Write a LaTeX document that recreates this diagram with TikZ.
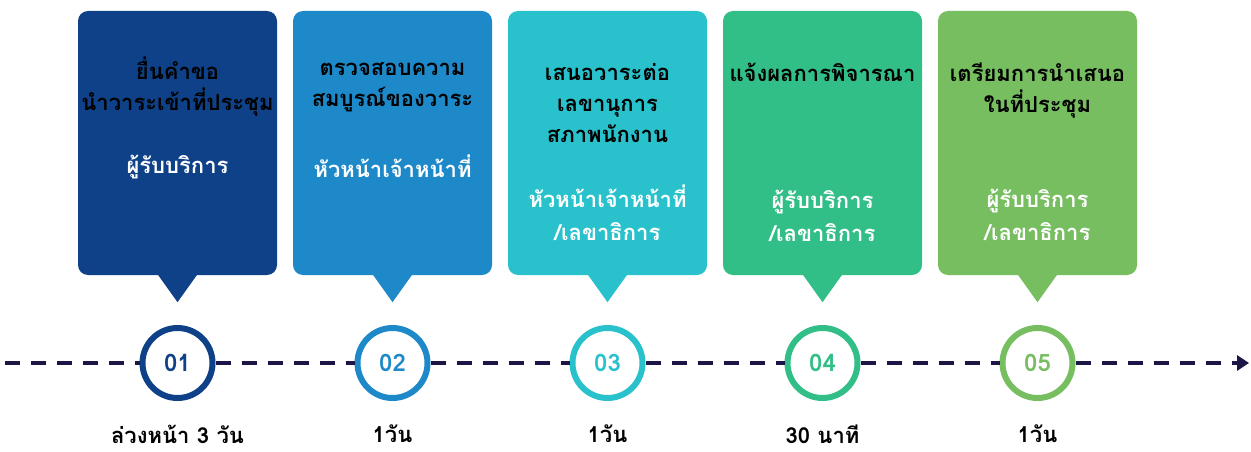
\documentclass[tikz,border=0pt]{standalone}
\usepackage{fontspec}
\setmainfont[Script=Thai]{Loma}
\usetikzlibrary{arrows.meta}
\definecolor{cA}{RGB}{14,65,135}
\definecolor{cB}{RGB}{30,137,201}
\definecolor{cC}{RGB}{41,194,204}
\definecolor{cD}{RGB}{50,190,135}
\definecolor{cE}{RGB}{118,190,95}
\definecolor{navy}{RGB}{28,22,70}
\tikzset{
  stagebox/.style={rectangle, rounded corners=10pt, minimum width=199pt, minimum height=264pt, inner sep=0pt},
  titletxt/.style={align=center, font=\fontsize{22}{31}\selectfont\bfseries, text=black, inner sep=0pt},
  roletxt/.style={align=center, font=\fontsize{22}{33}\selectfont\bfseries, text=white, inner sep=0pt},
  stepcircle/.style={circle, line width=6pt, minimum size=70pt, inner sep=0pt, fill=white, font=\fontsize{24}{26}\selectfont\bfseries},
  timetxt/.style={font=\fontsize{22}{25}\selectfont\bfseries, text=black, inner sep=0pt},
  timeline/.style={navy, line width=3.5pt, dash pattern=on 15pt off 11pt}
}
\begin{document}
\begin{tikzpicture}[x=1pt,y=-1pt]
\useasboundingbox[fill=white] (0,0) rectangle (1251,452);
% boxes
\foreach \i/\x/\c in {1/177.5/cA,2/392.5/cB,3/607.5/cC,4/822.5/cD,5/1037.5/cE}{
  \node[stagebox, fill=\c] (b\i) at (\x,143) {};
  \fill[\c] ([xshift=-20pt,yshift=1pt]b\i.south) -- ([xshift=20pt,yshift=1pt]b\i.south) -- ([yshift=-27pt]b\i.south) -- cycle;
}
% titles
\node[titletxt] (t1) at (177.5,87) {ยื่นคำขอ\\นำวาระเข้าที่ประชุม};
\node[roletxt] (r1) at (177.5,167) {ผู้รับบริการ};
\node[titletxt] (t2) at (392.5,87) {ตรวจสอบความ\\สมบูรณ์ของวาระ};
\node[roletxt] (r2) at (392.5,166) {หัวหน้าเจ้าหน้าที่};
\node[titletxt] (t3) at (607.5,103) {เสนอวาระต่อ\\เลขานุการ\\สภาพนักงาน};
\node[roletxt] (r3) at (607.5,213) {หัวหน้าเจ้าหน้าที่\\/เลขาธิการ};
\node[titletxt] (t4) at (822.5,72) {แจ้งผลการพิจารณา};
\node[roletxt] (r4) at (822.5,216) {ผู้รับบริการ\\/เลขาธิการ};
\node[titletxt] (t5) at (1037.5,91) {เตรียมการนำเสนอ\\ในที่ประชุม};
\node[roletxt] (r5) at (1037.5,215) {ผู้รับบริการ\\/เลขาธิการ};
% timeline
\coordinate (s) at (5,363);
\coordinate (e) at (1249,363);
\foreach \i/\x/\c in {1/177.5/cA,2/392.5/cB,3/607.5/cC,4/822.5/cD,5/1037.5/cE}{
  \node[stepcircle, draw=\c, text=\c] (c\i) at (\x,363) {0\i};
}
\draw[timeline] (s) -- (c1);
\draw[timeline] (c1) -- (c2);
\draw[timeline] (c2) -- (c3);
\draw[timeline] (c3) -- (c4);
\draw[timeline] (c4) -- (c5);
\draw[timeline, -{Triangle[length=12pt,width=15pt]}] (c5) -- (e);
% times
\node[timetxt] (d1) at (177.5,434) {ล่วงหน้า 3 วัน};
\node[timetxt] (d2) at (392.5,434) {1วัน};
\node[timetxt] (d3) at (607.5,434) {1วัน};
\node[timetxt] (d4) at (822.5,434) {30 นาที};
\node[timetxt] (d5) at (1037.5,434) {1วัน};
\end{tikzpicture}
\end{document}
